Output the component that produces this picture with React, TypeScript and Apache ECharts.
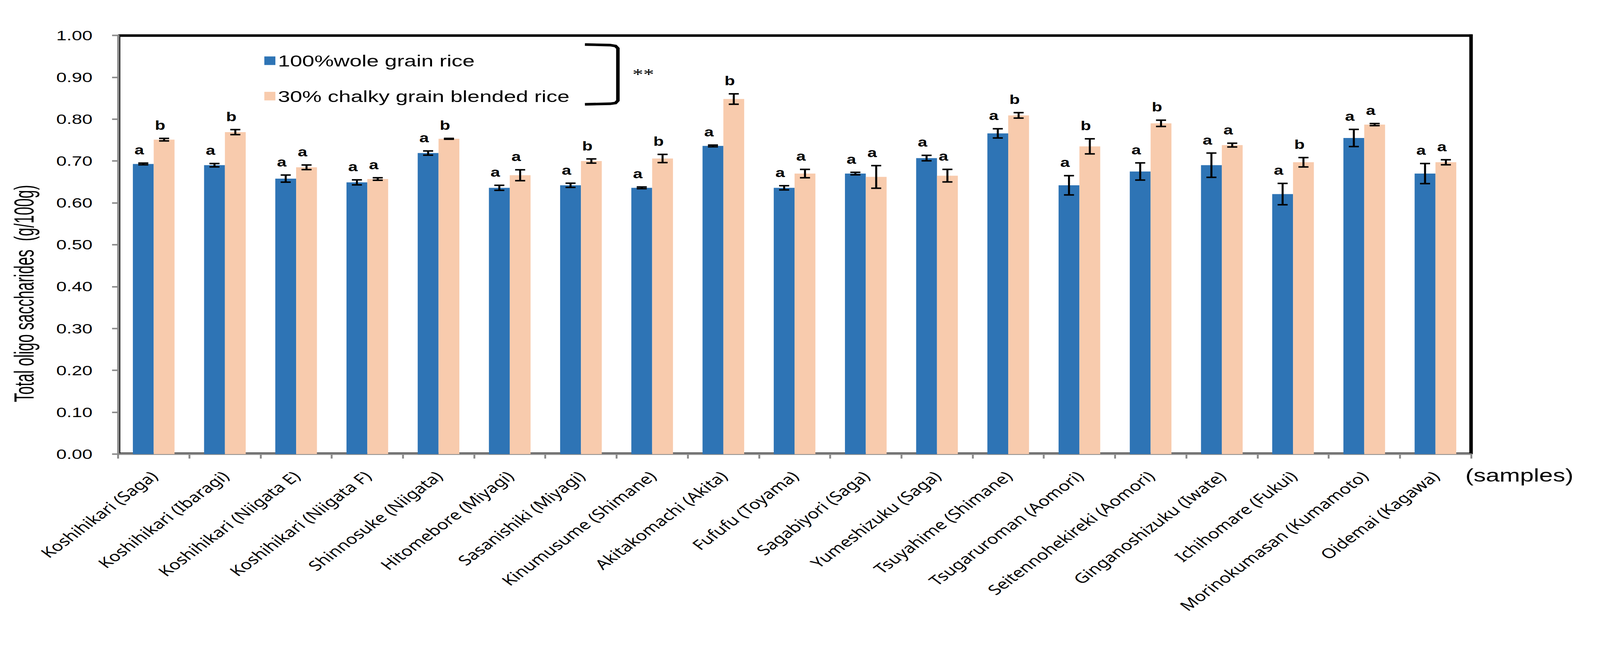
import React, { useEffect, useRef } from "react";
import * as echarts from "echarts";

// ---------- data ----------
const categories = [
  "Koshihikari (Saga)",
  "Koshihikari (Ibaragi)",
  "Koshihikari (Niigata E)",
  "Koshihikari (Niigata F)",
  "Shinnosuke (Niigata)",
  "Hitomebore (Miyagi)",
  "Sasanishiki (Miyagi)",
  "Kinumusume (Shimane)",
  "Akitakomachi (Akita)",
  "Fufufu (Toyama)",
  "Sagabiyori (Saga)",
  "Yumeshizuku (Saga)",
  "Tsuyahime (Shimane)",
  "Tsugaruroman (Aomori)",
  "Seitennohekireki (Aomori)",
  "Ginganoshizuku (Iwate)",
  "Ichihomare (Fukui)",
  "Morinokumasan (Kumamoto)",
  "Oidemai (Kagawa)",
];

const wholeName = "100%wole grain rice";
const blendName = "30% chalky grain blended rice";

const wholeMeans = [0.693, 0.690, 0.658, 0.649, 0.719, 0.636, 0.642, 0.636, 0.736, 0.636, 0.670, 0.707, 0.766, 0.642, 0.675, 0.690, 0.621, 0.755, 0.670];
const wholeErr = [0.002, 0.004, 0.0085, 0.006, 0.005, 0.006, 0.005, 0.002, 0.002, 0.005, 0.003, 0.0065, 0.011, 0.023, 0.0205, 0.029, 0.0255, 0.0205, 0.024];
const blendMeans = [0.751, 0.769, 0.685, 0.657, 0.753, 0.666, 0.700, 0.706, 0.848, 0.670, 0.662, 0.665, 0.809, 0.735, 0.790, 0.738, 0.697, 0.787, 0.697];
const blendErr = [0.003, 0.006, 0.0055, 0.003, 0.001, 0.013, 0.005, 0.0098, 0.0124, 0.010, 0.027, 0.015, 0.0065, 0.018, 0.0075, 0.0045, 0.0112, 0.0025, 0.006];

const wholeLetters = ["a", "a", "a", "a", "a", "a", "a", "a", "a", "a", "a", "a", "a", "a", "a", "a", "a", "a", "a"];
const blendLetters = ["b", "b", "a", "a", "b", "a", "b", "b", "b", "a", "a", "a", "b", "b", "b", "a", "b", "a", "a"];

const yMin = 0;
const yMax = 1;
const yInterval = 0.1;

// ---------- layout ----------
const FULL_W = 4298;
const FULL_H = 1691;
const BASE_W = 3184;
const SX = FULL_W / BASE_W;

const GRID_L = 235;
const GRID_R_X = 2927.4;
const GRID_T = 95;
const GRID_B_Y = 1219;
const CAT_GAP = 0.415;

const BLUE = "#2E74B5";
const PINK = "#F8CBAD";
const GREY = "#8a8a8a";
const SANS = "Liberation Sans, Arial, sans-serif";

function errSeries(name: string, means: number[], errs: number[], letters: string[], side: number) {
  return {
    type: "custom",
    name,
    z: 5,
    silent: true,
    data: means.map((m, i) => [i, m, errs[i]]),
    encode: { x: 0, y: 1 },
    renderItem: (params: any, api: any) => {
      const i = api.value(0);
      const m = api.value(1);
      const e = api.value(2);
      const band = api.size([1, 0])[0];
      const bw = (band * (1 - CAT_GAP)) / 2;
      const cx = api.coord([i, m])[0] + (side * bw) / 2;
      const yt = api.coord([i, m + e])[1];
      const yb = api.coord([i, m - e])[1];
      const st = { stroke: "#000", lineWidth: 4 };
      return {
        type: "group",
        children: [
          { type: "line", shape: { x1: cx, y1: yt, x2: cx, y2: yb }, style: st },
          { type: "line", shape: { x1: cx - 10, y1: yt, x2: cx + 10, y2: yt }, style: st },
          { type: "line", shape: { x1: cx - 10, y1: yb, x2: cx + 10, y2: yb }, style: st },
          {
            type: "text",
            x: cx - 8,
            y: yt - 18,
            style: {
              text: letters[params.dataIndex],
              fontSize: 34,
              fontWeight: "bold",
              fontFamily: SANS,
              fill: "#000",
              align: "center",
              verticalAlign: "bottom",
              textAlign: "center",
              textVerticalAlign: "bottom",
            },
          },
        ],
      };
    },
  };
}

function viewportFactor() {
  if (typeof window === "undefined") return 1;
  const w = window.innerWidth || FULL_W;
  const h = window.innerHeight || FULL_H;
  const k = Math.min(w / FULL_W, h / FULL_H);
  return k > 0 && k < 1 ? k : 1;
}

export default function App() {
  const ref = useRef<HTMLDivElement>(null);
  const k = viewportFactor();

  useEffect(() => {
    if (!ref.current) return;
    const chart = echarts.init(ref.current, undefined, { renderer: "svg" });
    const legendText = { fontFamily: SANS, fontSize: 43.5, color: "#000" };
    const option: any = {
      animation: false,
      backgroundColor: "#fff",
      grid: {
        left: GRID_L,
        right: BASE_W - GRID_R_X,
        top: GRID_T,
        bottom: FULL_H - GRID_B_Y,
        containLabel: false,
      },
      legend: [
        {
          data: [wholeName],
          left: 526,
          top: 141,
          padding: 0,
          icon: "rect",
          itemWidth: 22,
          itemHeight: 23,
          selectedMode: false,
          textStyle: legendText,
        },
        {
          data: [blendName],
          left: 526,
          top: 236,
          padding: 0,
          icon: "rect",
          itemWidth: 22,
          itemHeight: 23,
          selectedMode: false,
          textStyle: legendText,
        },
      ],
      xAxis: {
        type: "category",
        data: categories,
        axisLine: { show: true, lineStyle: { color: GREY, width: 4.3 } },
        axisTick: { show: true, length: 12, lineStyle: { color: GREY, width: 3.7 } },
        axisLabel: {
          interval: 0,
          rotate: 45,
          margin: 52,
          fontFamily: "Noto Sans, sans-serif",
          fontSize: 37,
          color: "#000",
        },
        splitLine: { show: false },
      },
      yAxis: {
        type: "value",
        min: yMin,
        max: yMax,
        interval: yInterval,
        axisLine: { show: true, lineStyle: { color: GREY, width: 4.5 } },
        axisTick: { show: true, length: 12, lineStyle: { color: GREY, width: 4 } },
        axisLabel: {
          margin: 51,
          fontFamily: SANS,
          fontSize: 37,
          color: "#000",
          formatter: (v: number) => v.toFixed(2),
        },
        splitLine: { show: false },
      },
      series: [
        {
          type: "bar",
          name: wholeName,
          data: wholeMeans,
          barGap: "0%",
          barCategoryGap: CAT_GAP * 100 + "%",
          itemStyle: { color: BLUE },
          z: 2,
        },
        {
          type: "bar",
          name: blendName,
          data: blendMeans,
          barGap: "0%",
          barCategoryGap: CAT_GAP * 100 + "%",
          itemStyle: { color: PINK },
          z: 2,
        },
        errSeries("err-whole", wholeMeans, wholeErr, wholeLetters, -1),
        errSeries("err-blend", blendMeans, blendErr, blendLetters, 1),
      ],
      graphic: [
        // frame
        { type: "line", z: -1, shape: { x1: GRID_L, y1: 95.5, x2: GRID_R_X + 2.6, y2: 95.5 }, style: { stroke: "#000", lineWidth: 7 } },
        { type: "line", z: -1, shape: { x1: GRID_R_X, y1: 92, x2: GRID_R_X, y2: GRID_B_Y }, style: { stroke: "#000", lineWidth: 7 } },
        { type: "line", z: -1, shape: { x1: 238.3, y1: 95, x2: 238.3, y2: GRID_B_Y }, style: { stroke: "#000", lineWidth: 2.2 } },
        { type: "line", z: -1, shape: { x1: GRID_L, y1: 1215.8, x2: GRID_R_X, y2: 1215.8 }, style: { stroke: "#000", lineWidth: 2 } },
        // bracket
        {
          type: "polyline",
          shape: {
            points: [
              [1164, 119.5],
              [1214, 121],
              [1225, 123.5],
              [1229.6, 130],
              [1229.6, 270],
              [1225, 276.5],
              [1214, 278.5],
              [1164, 280],
            ],
          },
          style: { stroke: "#000", lineWidth: 7, fill: null },
        },
        {
          type: "text",
          x: 1280,
          y: 199,
          style: {
            text: "**",
            fontFamily: "Liberation Serif, Times New Roman, serif",
            fontSize: 43,
            fill: "#000",
            align: "center",
            verticalAlign: "middle",
            textAlign: "center",
            textVerticalAlign: "middle",
          },
        },
        // y-axis title
        {
          type: "text",
          x: 48,
          y: 788,
          rotation: Math.PI / 2,
          scaleX: 0.75,
          style: {
            text: "Total oligo saccharides  (g/100g)",
            fontFamily: SANS,
            fontSize: 54,
            fill: "#000",
            align: "center",
            verticalAlign: "middle",
            textAlign: "center",
            textVerticalAlign: "middle",
          },
        },
        // x-axis note
        {
          type: "text",
          x: 2916,
          y: 1276,
          style: {
            text: "(samples)",
            fontFamily: SANS,
            fontSize: 49,
            fill: "#000",
            align: "left",
            verticalAlign: "middle",
            textAlign: "left",
            textVerticalAlign: "middle",
          },
        },
      ],
    };
    chart.setOption(option);
    return () => chart.dispose();
  }, []);

  return (
    <div
      style={{
        position: "absolute",
        left: 0,
        top: 0,
        width: FULL_W * k,
        height: FULL_H * k,
        overflow: "hidden",
        background: "#fff",
      }}
    >
      <div
        ref={ref}
        style={{
          width: BASE_W,
          height: FULL_H,
          transform: `scale(${SX * k}, ${k})`,
          transformOrigin: "0 0",
        }}
      />
    </div>
  );
}
